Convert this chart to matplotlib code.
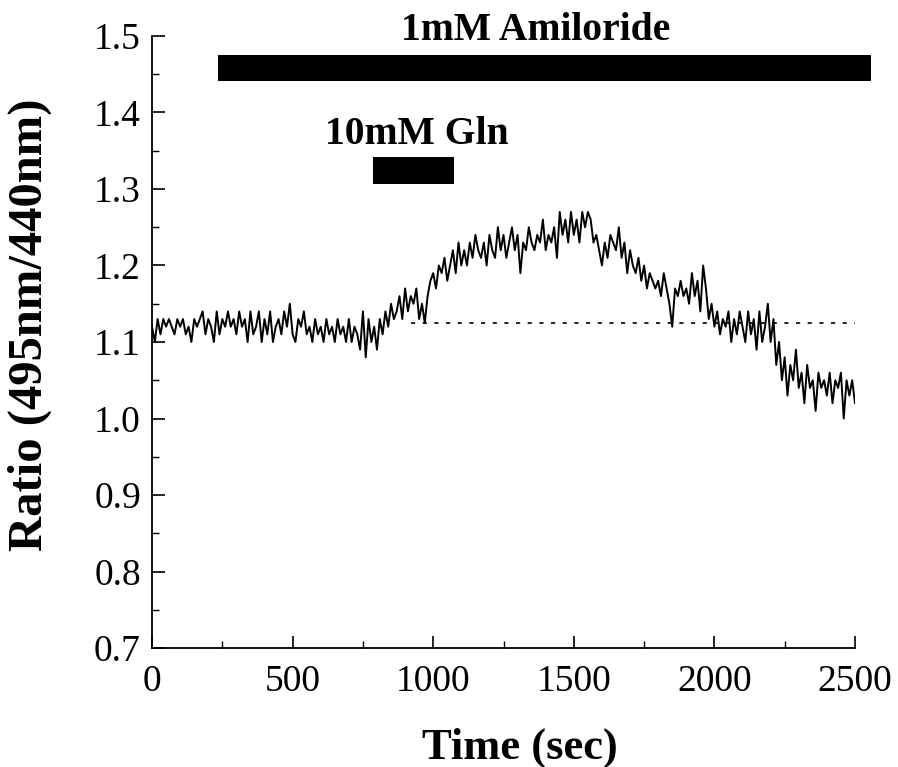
import numpy as np
import matplotlib
matplotlib.use("Agg")
import matplotlib.pyplot as plt
from matplotlib.ticker import MultipleLocator

# ---- data ----
time_step = 10  # seconds between samples
ratio = [
    1.12, 1.10, 1.13, 1.11, 1.13, 1.12, 1.13, 1.12, 1.11, 1.13,
    1.12, 1.13, 1.11, 1.12, 1.10, 1.13, 1.12, 1.13, 1.14, 1.11,
    1.13, 1.12, 1.10, 1.14, 1.11, 1.13, 1.12, 1.14, 1.12, 1.13,
    1.11, 1.14, 1.12, 1.13, 1.10, 1.14, 1.11, 1.12, 1.14, 1.10,
    1.13, 1.11, 1.14, 1.10, 1.12, 1.13, 1.11, 1.14, 1.12, 1.15,
    1.11, 1.10, 1.13, 1.12, 1.14, 1.11, 1.12, 1.10, 1.13, 1.11,
    1.12, 1.10, 1.13, 1.11, 1.12, 1.10, 1.13, 1.11, 1.12, 1.10,
    1.13, 1.10, 1.12, 1.11, 1.09, 1.14, 1.08, 1.13, 1.10, 1.12,
    1.09, 1.13, 1.11, 1.14, 1.12, 1.15, 1.13, 1.14, 1.16, 1.13,
    1.17, 1.14, 1.16, 1.15, 1.17, 1.13, 1.15, 1.125, 1.16, 1.18,
    1.19, 1.17, 1.20, 1.19, 1.21, 1.18, 1.20, 1.22, 1.19, 1.23,
    1.20, 1.22, 1.20, 1.23, 1.21, 1.24, 1.22, 1.21, 1.23, 1.20,
    1.24, 1.22, 1.21, 1.25, 1.22, 1.24, 1.21, 1.23, 1.25, 1.22,
    1.24, 1.19, 1.23, 1.22, 1.25, 1.23, 1.22, 1.24, 1.23, 1.26,
    1.22, 1.24, 1.23, 1.25, 1.21, 1.27, 1.24, 1.26, 1.23, 1.27,
    1.24, 1.26, 1.23, 1.27, 1.25, 1.27, 1.26, 1.23, 1.24, 1.22,
    1.20, 1.23, 1.21, 1.24, 1.23, 1.22, 1.25, 1.21, 1.23, 1.19,
    1.22, 1.20, 1.19, 1.21, 1.18, 1.20, 1.17, 1.19, 1.18, 1.17,
    1.18, 1.16, 1.19, 1.17, 1.15, 1.12, 1.17, 1.16, 1.18, 1.16,
    1.17, 1.15, 1.19, 1.16, 1.18, 1.14, 1.20, 1.17, 1.13, 1.15,
    1.12, 1.14, 1.11, 1.13, 1.12, 1.14, 1.10, 1.13, 1.11, 1.14,
    1.12, 1.10, 1.14, 1.11, 1.13, 1.09, 1.14, 1.10, 1.12, 1.15,
    1.10, 1.13, 1.07, 1.10, 1.05, 1.08, 1.03, 1.07, 1.05, 1.09,
    1.04, 1.06, 1.02, 1.07, 1.04, 1.05, 1.01, 1.06, 1.04, 1.05,
    1.03, 1.06, 1.02, 1.05, 1.04, 1.06, 1.00, 1.05, 1.03, 1.05,
    1.02,
]
time = np.arange(len(ratio)) * time_step

baseline_value = 1.125
baseline_span = [920, 2500]

treatments = ["1mM Amiloride", "10mM Gln"]
treat_start = [235, 786]
treat_end = [2557, 1074]
treat_low = [1.441, 1.307]
treat_high = [1.475, 1.342]
label_x = [1365, 940]
label_y = [1.507, 1.371]

x_ticks = [0, 500, 1000, 1500, 2000, 2500]
y_ticks = [0.7, 0.8, 0.9, 1.0, 1.1, 1.2, 1.3, 1.4, 1.5]

# ---- figure ----
plt.rcParams['font.family'] = ['Liberation Serif', 'DejaVu Serif']
fig = plt.figure(figsize=(8.98, 7.67), dpi=100)
ax = fig.add_axes([0.1693, 0.1551, 0.9521 - 0.1693, 0.9531 - 0.1551])

ax.plot(time, ratio, color='black', lw=1.4)
ax.plot(baseline_span, [baseline_value] * 2, color='black', lw=1.2,
        linestyle=(0, (2.5, 4.5)))

for s, e, lo, hi in zip(treat_start, treat_end, treat_low, treat_high):
    ax.barh((lo + hi) / 2, e - s, left=s, height=hi - lo, color='black',
            clip_on=False)

for name, lx, ly in zip(treatments, label_x, label_y):
    ax.text(lx, ly, name, ha='center', va='center', fontsize=28.5,
            fontweight='bold', clip_on=False)

ax.set_xlim(0, 2500)
ax.set_ylim(0.7, 1.5)
ax.set_xticks(x_ticks)
ax.set_yticks(y_ticks)
ax.set_yticklabels([f"{v:.1f}" for v in y_ticks])
ax.xaxis.set_minor_locator(MultipleLocator(250))
ax.yaxis.set_minor_locator(MultipleLocator(0.05))

for side in ['top', 'right']:
    ax.spines[side].set_visible(False)
for side in ['left', 'bottom']:
    ax.spines[side].set_linewidth(1.3)

ax.tick_params(which='major', direction='in', length=9, width=1.2,
               labelsize=27)
ax.tick_params(axis='x', which='major', pad=12)
ax.tick_params(axis='y', which='major', pad=8)
ax.tick_params(which='minor', direction='in', length=5, width=1.0)

ax.set_xlabel('Time (sec)', fontsize=32, fontweight='bold')
ax.set_ylabel('Ratio (495nm/440nm)', fontsize=35, fontweight='bold')
ax.xaxis.set_label_coords(0.523, -0.13)
ax.yaxis.set_label_coords(-0.142, 0.528)

fig.savefig('out.png', dpi=100)
